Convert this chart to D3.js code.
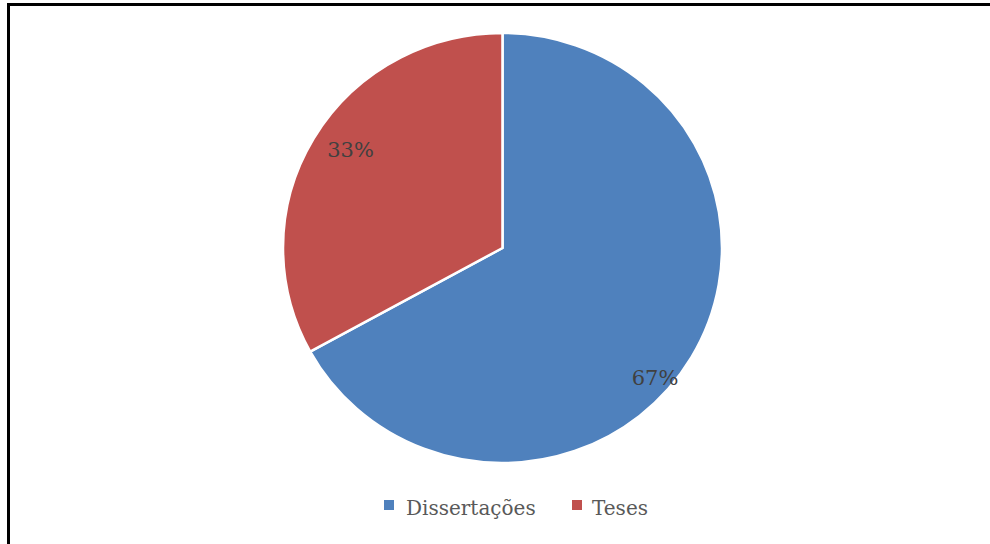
<!DOCTYPE html>
<html>
<head>
<meta charset="utf-8">
<script src="https://cdn.jsdelivr.net/npm/d3@7"></script>
<style>
  html, body { margin: 0; padding: 0; background: #fff; }
  svg { display: block; }
</style>
</head>
<body>
<svg id="chart" width="990" height="544"></svg>
<script>
// ---- data ----
const categories = ["Dissertações", "Teses"];
const values = [67, 33];
const labels = ["67%", "33%"];
const colors = ["#4F81BD", "#C0504D"];

// ---- layout ----
const W = 990, H = 544;
const cx = 502.5, cy = 248;
const rx = 219.5, ry = 215;
const fontFamily = "'DejaVu Serif', 'Liberation Serif', serif";
// label placement [angle offset (rad), radius fraction]
const labelPlace = [[0.18, 0.92], [0.05, 0.83]];

const svg = d3.select("#chart");

// frame (top and left edges visible)
svg.append("line").attr("x1", 8.5).attr("y1", 4.5).attr("x2", W).attr("y2", 4.5)
  .attr("stroke", "#000").attr("stroke-width", 3);
svg.append("line").attr("x1", 8.5).attr("y1", 3).attr("x2", 8.5).attr("y2", H)
  .attr("stroke", "#000").attr("stroke-width", 3);

const data = categories.map((c, i) => ({ cat: c, value: values[i], label: labels[i], color: colors[i] }));
const pie = d3.pie().value(d => d.value).sort(null);
const arcs = pie(data);
const arc = d3.arc().innerRadius(0).outerRadius(ry);

const g = svg.append("g")
  .attr("transform", `translate(${cx},${cy}) scale(${rx / ry},1)`);

g.selectAll("path").data(arcs).enter().append("path")
  .attr("d", arc)
  .attr("fill", d => d.data.color)
  .attr("stroke", "#fff")
  .attr("stroke-width", 2.5)
  .attr("stroke-linejoin", "round");

// data labels
svg.selectAll("text.lbl").data(arcs).enter().append("text")
  .attr("class", "lbl")
  .attr("x", (d, i) => {
    const a = (d.startAngle + d.endAngle) / 2 + labelPlace[i][0];
    return cx + Math.sin(a) * rx * labelPlace[i][1];
  })
  .attr("y", (d, i) => {
    const a = (d.startAngle + d.endAngle) / 2 + labelPlace[i][0];
    return cy - Math.cos(a) * ry * labelPlace[i][1];
  })
  .attr("text-anchor", "middle")
  .attr("dominant-baseline", "central")
  .attr("font-family", fontFamily)
  .attr("font-size", 21)
  .attr("fill", "#404040")
  .text(d => d.data.label);

// legend
const legendItems = [
  { x: 384, textX: 406 },
  { x: 572, textX: 592 }
];
const lg = svg.append("g");
data.forEach((d, i) => {
  lg.append("rect")
    .attr("x", legendItems[i].x).attr("y", 500)
    .attr("width", 10).attr("height", 10)
    .attr("fill", d.color);
  lg.append("text")
    .attr("x", legendItems[i].textX).attr("y", 515)
    .attr("font-family", fontFamily)
    .attr("font-size", 20)
    .attr("fill", "#595959")
    .text(d.cat);
});
</script>
</body>
</html>
